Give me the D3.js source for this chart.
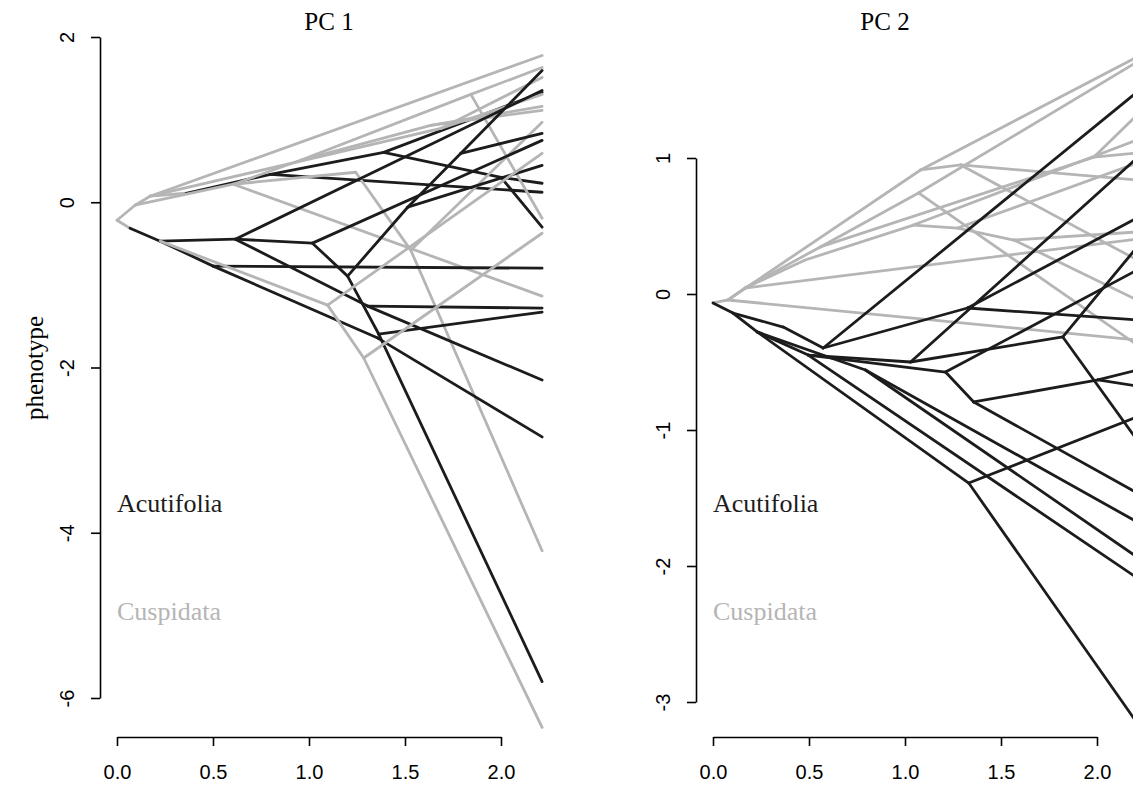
<!DOCTYPE html>
<html>
<head>
<meta charset="utf-8">
<script src="https://cdn.jsdelivr.net/npm/d3@7"></script>
<style>
  body { margin: 0; background: #fff; }
  .tick text { font-family: "Liberation Sans", Arial, sans-serif; font-size: 20px; fill: #000; }
  .serif { font-family: "Liberation Serif", "Times New Roman", serif; }
</style>
</head>
<body>
<div id="chart"></div>
<script>
// clade labels and tick values
const clades = [["Acutifolia", "A"], ["Cuspidata", "C"]];
const xTicks = [0, 0.5, 1, 1.5, 2];
const pc1Ticks = [-6, -4, -2, 0, 2];
const pc2Ticks = [-3, -2, -1, 0, 1];

// tree nodes: [id, parent, time, phenotype, clade of the branch leading to it]
const pc1Nodes = [
  ["root", null, 0.000, -0.218, null],
  ["g1", "root", 0.094, -0.036, "C"],
  ["g2", "g1", 0.172, 0.073, "C"],
  ["t01", "g2", 2.214, 1.776, "C"],
  ["g3", "g2", 0.360, 0.109, "C"],
  ["b1", "g3", 0.799, 0.338, "A"],
  ["b2", "b1", 1.389, 0.604, "A"],
  ["t02", "b2", 2.214, 1.329, "A"],
  ["b3", "b2", 2.000, 0.302, "A"],
  ["t03", "b3", 2.214, 0.230, "A"],
  ["t04", "b3", 2.214, -0.302, "A"],
  ["t05", "b1", 2.214, 0.121, "A"],
  ["g4", "g2", 1.687, 0.894, "C"],
  ["t06", "g4", 2.214, 1.511, "C"],
  ["t07", "g4", 2.214, 1.305, "C"],
  ["g5", "g1", 0.606, 0.218, "C"],
  ["t08", "g5", 2.214, -1.136, "C"],
  ["g6", "g5", 0.956, 0.508, "C"],
  ["g7", "g6", 1.843, 1.305, "C"],
  ["t09", "g7", 2.214, 1.631, "C"],
  ["t10", "g7", 2.214, -0.193, "C"],
  ["g8", "g6", 1.634, 0.931, "C"],
  ["t11", "g8", 2.214, 1.160, "C"],
  ["t12", "g8", 2.214, 1.112, "C"],
  ["g9", "g5", 1.243, 0.363, "C"],
  ["g10", "g9", 1.530, -0.580, "C"],
  ["t13", "g10", 2.214, -4.218, "C"],
  ["t14", "g10", 2.214, 0.967, "C"],
  ["n1", "root", 0.068, -0.314, "C"],
  ["n2", "n1", 0.225, -0.471, "A"],
  ["n3", "n2", 0.501, -0.773, "A"],
  ["t15", "n3", 2.214, -0.798, "A"],
  ["n4", "n3", 1.358, -1.644, "A"],
  ["t16", "n4", 2.214, -2.840, "A"],
  ["n5", "n2", 0.616, -0.447, "A"],
  ["n6", "n5", 1.305, -1.257, "A"],
  ["t17", "n6", 2.214, -1.281, "A"],
  ["t18", "n6", 2.214, -2.151, "A"],
  ["n7", "n5", 1.018, -0.495, "A"],
  ["n8", "n7", 1.201, -0.894, "A"],
  ["n9", "n8", 1.363, -1.595, "A"],
  ["t19", "n9", 2.214, -1.329, "A"],
  ["t20", "n9", 2.214, -5.801, "A"],
  ["n10", "n8", 1.514, -0.060, "A"],
  ["n11", "n10", 1.791, 0.592, "A"],
  ["t21", "n11", 2.214, 1.595, "A"],
  ["t22", "n11", 2.214, 0.834, "A"],
  ["t23", "n10", 2.214, 0.447, "A"],
  ["t24", "n7", 2.214, 0.749, "A"],
  ["t25", "n5", 2.214, 1.353, "A"],
  ["g11", "n2", 1.097, -1.245, "C"],
  ["g12", "g11", 1.285, -1.885, "C"],
  ["t26", "g12", 2.214, -6.356, "C"],
  ["t27", "g12", 2.214, -0.375, "C"],
  ["t28", "g11", 2.214, 0.592, "C"]
];

const pc2Nodes = [
  ["root", null, 0.000, -0.066, null],
  ["c1", "root", 0.078, -0.044, "C"],
  ["c2", "c1", 0.167, 0.044, "C"],
  ["c3", "c1", 1.081, 0.912, "C"],
  ["u01", "c3", 2.209, 1.743, "C"],
  ["c4", "c3", 1.290, 0.949, "C"],
  ["u02", "c4", 2.209, 0.838, "C"],
  ["u03", "c4", 2.209, 0.250, "C"],
  ["c5", "c2", 0.559, 0.346, "C"],
  ["c6", "c5", 1.070, 0.743, "C"],
  ["u04", "c6", 2.209, 1.706, "C"],
  ["u05", "c6", 2.209, -0.375, "C"],
  ["c12", "c5", 1.984, 1.007, "C"],
  ["u06", "c12", 2.209, 1.316, "C"],
  ["u07", "c12", 2.209, 1.037, "C"],
  ["c8", "c2", 0.480, 0.250, "C"],
  ["c9", "c8", 1.044, 0.507, "C"],
  ["u08", "c9", 2.209, 1.132, "C"],
  ["c10", "c9", 1.274, 0.485, "C"],
  ["u09", "c10", 2.209, 0.963, "C"],
  ["c11", "c10", 1.567, 0.397, "C"],
  ["u10", "c11", 2.209, 0.456, "C"],
  ["u11", "c11", 2.209, -0.044, "C"],
  ["u12", "c2", 2.209, 0.404, "C"],
  ["u13", "c1", 2.209, -0.338, "C"],
  ["b1", "root", 0.104, -0.140, "A"],
  ["b2", "b1", 0.230, -0.279, "A"],
  ["b3", "b1", 0.366, -0.243, "A"],
  ["b4", "b3", 0.574, -0.397, "A"],
  ["v01", "b4", 2.209, 1.485, "A"],
  ["b5", "b4", 1.326, -0.103, "A"],
  ["v02", "b5", 2.209, -0.191, "A"],
  ["v03", "b5", 2.209, 0.559, "A"],
  ["b6", "b2", 0.496, -0.449, "A"],
  ["b7", "b6", 1.029, -0.500, "A"],
  ["b8", "b7", 1.822, -0.316, "A"],
  ["v04", "b8", 2.209, 0.346, "A"],
  ["v05", "b8", 2.209, -1.074, "A"],
  ["v06", "b7", 2.209, 1.000, "A"],
  ["b9", "b6", 1.211, -0.574, "A"],
  ["b10", "b9", 1.358, -0.794, "A"],
  ["v07", "b10", 2.209, -1.463, "A"],
  ["b11", "b10", 2.005, -0.632, "A"],
  ["v08", "b11", 2.209, -0.559, "A"],
  ["v09", "b11", 2.209, -0.676, "A"],
  ["v10", "b9", 2.209, 0.176, "A"],
  ["b12", "b2", 0.794, -0.559, "A"],
  ["v11", "b12", 2.209, -1.676, "A"],
  ["v12", "b12", 2.209, -1.934, "A"],
  ["b13", "b2", 1.332, -1.390, "A"],
  ["v13", "b13", 2.209, -3.154, "A"],
  ["v14", "b13", 2.209, -0.904, "A"],
  ["v15", "b6", 2.209, -2.088, "A"]
];

const colors = { A: "#1c1c1c", C: "#b5b5b5" };

const width = 1133, height = 799;

const svg = d3.select("#chart")
  .append("svg")
  .attr("width", width)
  .attr("height", height);

function drawPanel(p) {
  const x = d3.scaleLinear().domain([0, 2]).range([p.left + 17, p.left + 401]);
  const y = d3.scaleLinear().domain(p.yDomain).range([p.yBottom, p.yTop]);

  const g = svg.append("g");

  // branches, parent -> child
  const byId = new Map(p.nodes.map(d => [d[0], d]));
  const branches = p.nodes.filter(d => d[1] !== null);

  g.selectAll(".branch")
    .data(branches)
    .enter()
    .append("line")
    .attr("class", "branch")
    .attr("x1", d => x(byId.get(d[1])[2]))
    .attr("y1", d => y(byId.get(d[1])[3]))
    .attr("x2", d => x(d[2]))
    .attr("y2", d => y(d[3]))
    .attr("stroke", d => colors[d[4]])
    .attr("stroke-width", 2.8)
    .attr("stroke-linecap", "round");

  // y axis, labels rotated like R
  const yAxis = g.append("g")
    .attr("transform", "translate(" + p.left + ",0)")
    .call(d3.axisLeft(y).tickValues(p.ticks).tickSize(9).tickSizeOuter(0).tickFormat(d => String(d)));
  yAxis.selectAll("text")
    .attr("transform", "rotate(-90)")
    .attr("x", 0)
    .attr("y", -26)
    .attr("dy", 0)
    .attr("text-anchor", "middle");

  // x axis
  const xAxis = g.append("g")
    .attr("transform", "translate(0,737)")
    .call(d3.axisBottom(x).tickValues(xTicks).tickSize(9).tickSizeOuter(0).tickFormat(d => d.toFixed(1)));
  xAxis.selectAll("text").attr("y", 42).attr("dy", 0);

  g.selectAll(".domain, .tick line").attr("stroke", "#000").attr("stroke-width", 1.6);

  // title
  g.append("text")
    .attr("class", "serif")
    .attr("x", p.titleX)
    .attr("y", 30)
    .attr("text-anchor", "middle")
    .attr("font-size", 25)
    .text(p.title);

  // clade legend
  g.selectAll(".clade")
    .data(clades)
    .enter()
    .append("text")
    .attr("class", "serif clade")
    .attr("x", p.left + 17)
    .attr("y", (d, i) => 512 + i * 108)
    .attr("font-size", 26)
    .attr("fill", d => colors[d[1]])
    .text(d => d[0]);
}

drawPanel({ nodes: pc1Nodes, ticks: pc1Ticks, yDomain: [-6, 2], yBottom: 698, yTop: 37,
            left: 100, title: "PC 1", titleX: 329 });
drawPanel({ nodes: pc2Nodes, ticks: pc2Ticks, yDomain: [-3, 1], yBottom: 702, yTop: 158,
            left: 696, title: "PC 2", titleX: 885 });

svg.append("text")
  .attr("class", "serif")
  .attr("transform", "translate(35,368) rotate(-90)")
  .attr("y", 8)
  .attr("text-anchor", "middle")
  .attr("font-size", 25)
  .text("phenotype");
</script>
</body>
</html>
